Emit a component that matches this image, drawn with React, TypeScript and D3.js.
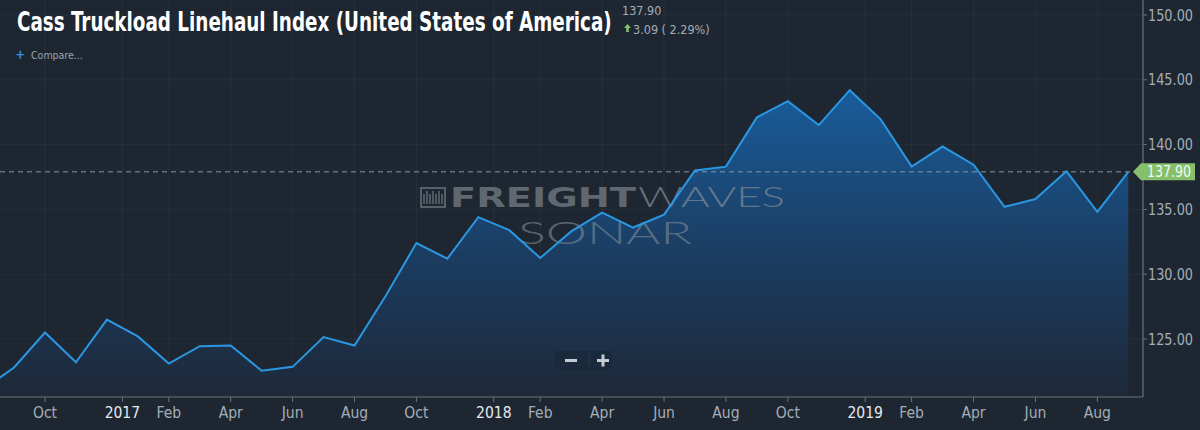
import React, { useEffect, useRef } from 'react';
import * as d3 from 'd3';

// monthly index values, Aug 2016 .. Sep 2019
const months = [
  '2016-08', '2016-09', '2016-10', '2016-11', '2016-12',
  '2017-01', '2017-02', '2017-03', '2017-04', '2017-05', '2017-06',
  '2017-07', '2017-08', '2017-09', '2017-10', '2017-11', '2017-12',
  '2018-01', '2018-02', '2018-03', '2018-04', '2018-05', '2018-06',
  '2018-07', '2018-08', '2018-09', '2018-10', '2018-11', '2018-12',
  '2019-01', '2019-02', '2019-03', '2019-04', '2019-05', '2019-06',
  '2019-07', '2019-08', '2019-09',
];
const values = [
  121.1, 122.8, 125.5, 123.2, 126.5,
  125.2, 123.1, 124.45, 124.5, 122.55, 122.85,
  125.15, 124.5, 128.3, 132.4, 131.2, 134.4,
  133.4, 131.25, 133.3, 134.75, 133.6, 134.6,
  138.0, 138.3, 142.1, 143.35, 141.5, 144.2,
  141.95, 138.3, 139.85, 138.45, 135.2, 135.8,
  137.95, 134.81, 137.9,
];
const monthNames = ['Jan', 'Feb', 'Mar', 'Apr', 'May', 'Jun', 'Jul', 'Aug', 'Sep', 'Oct', 'Nov', 'Dec'];
const labelledMonths = ['Feb', 'Apr', 'Jun', 'Aug', 'Oct'];
const yTicks = [125, 130, 135, 140, 145, 150];

const lastValue = 137.9;
const change = 3.09;
const changePct = 2.29;
const title = 'Cass Truckload Linehaul Index (United States of America)';

const W = 1200;
const H = 430;
const plotRight = 1143;
const plotBottom = 397;
const condensed = "'Liberation Sans Narrow', 'DejaVu Sans Condensed', Roboto, sans-serif";

// squeeze a text horizontally to a given width (keeps its real bbox honest)
function fitWidth(sel: d3.Selection<SVGTextElement, unknown, null, undefined>, x: number, y: number, width: number) {
  const natural = sel.node()!.getComputedTextLength() || width;
  sel.attr('x', 0).attr('y', 0)
    .attr('transform', `translate(${x},${y}) scale(${width / natural},1)`);
}

export default function App() {
  const svgRef = useRef<SVGSVGElement>(null);

  useEffect(() => {
    if (!svgRef.current) return;
    const svg = d3.select(svgRef.current);
    svg.selectAll('*').remove();

    const x = d3.scaleLinear().domain([0, months.length - 1]).range([-16.9, 1128.3]);
    const y = d3.scaleLinear().domain([125, 150]).range([339, 15]);

    // x ticks: even months at the point, year labels half a step before January
    const xTicks: { pos: number; label: string; year: boolean }[] = [];
    months.forEach((m, i) => {
      const [yr, mo] = m.split('-').map(Number);
      const name = monthNames[mo - 1];
      if (mo === 1) xTicks.push({ pos: i - 0.5, label: String(yr), year: true });
      else if (labelledMonths.includes(name)) xTicks.push({ pos: i, label: name, year: false });
    });
    const visibleTicks = xTicks.filter((t) => x(t.pos) > 0 && x(t.pos) < plotRight);

    const defs = svg.append('defs');
    const grad = defs.append('linearGradient')
      .attr('id', 'areaFill')
      .attr('gradientUnits', 'userSpaceOnUse')
      .attr('x1', 0).attr('x2', 0)
      .attr('y1', 90).attr('y2', plotBottom);
    grad.append('stop').attr('offset', '0%').attr('stop-color', '#195c9b');
    grad.append('stop').attr('offset', '55%').attr('stop-color', '#1b3c60');
    grad.append('stop').attr('offset', '100%').attr('stop-color', '#1e2939');

    defs.append('clipPath').attr('id', 'plotClip')
      .append('rect').attr('x', 0).attr('y', 0).attr('width', plotRight).attr('height', plotBottom);

    svg.append('rect').attr('width', W).attr('height', H).attr('fill', '#1e2731');

    // grid
    const grid = svg.append('g');
    grid.selectAll('line.v').data(visibleTicks).join('line')
      .attr('class', 'v')
      .attr('x1', (d) => x(d.pos)).attr('x2', (d) => x(d.pos))
      .attr('y1', 0).attr('y2', plotBottom)
      .attr('stroke', '#ffffff').attr('stroke-opacity', 0.045);
    grid.selectAll('line.h').data(yTicks).join('line')
      .attr('class', 'h')
      .attr('x1', 0).attr('x2', plotRight)
      .attr('y1', (d) => y(d)).attr('y2', (d) => y(d))
      .attr('stroke', '#ffffff').attr('stroke-opacity', 0.035);

    const plot = svg.append('g').attr('clip-path', 'url(#plotClip)');

    const area = d3.area<number>()
      .x((_, i) => x(i))
      .y0(plotBottom - 1)
      .y1((d) => y(d));
    plot.append('path').datum(values).attr('d', area).attr('fill', 'url(#areaFill)');

    // watermark
    const wm = plot.append('g');
    const icon = wm.append('g').attr('transform', 'translate(421,188)');
    icon.append('rect').attr('width', 24).attr('height', 19).attr('fill', 'none')
      .attr('stroke', '#6b737c').attr('stroke-width', 1.5);
    d3.range(7).forEach((k) => {
      icon.append('line')
        .attr('x1', 3 + k * 3).attr('x2', 3 + k * 3)
        .attr('y1', k % 2 ? 3 : 6).attr('y2', 16)
        .attr('stroke', '#6b737c').attr('stroke-width', 1.3);
    });
    wm.append('text').attr('x', 450).attr('y', 207)
      .attr('font-family', "'DejaVu Sans', sans-serif").attr('font-weight', 'bold')
      .attr('font-size', 26).attr('textLength', 186).attr('lengthAdjust', 'spacingAndGlyphs')
      .attr('fill', '#5f6770').text('FREIGHT');
    wm.append('text').attr('x', 638).attr('y', 207)
      .attr('font-family', "Lato, 'DejaVu Sans', sans-serif").attr('font-weight', 300)
      .attr('font-size', 27).attr('textLength', 147).attr('lengthAdjust', 'spacingAndGlyphs')
      .attr('fill', '#7d8894').attr('fill-opacity', 0.75).text('WAVES');
    wm.append('text').attr('x', 518).attr('y', 244)
      .attr('font-family', "Lato, 'DejaVu Sans', sans-serif").attr('font-weight', 300)
      .attr('font-size', 31).attr('textLength', 174).attr('lengthAdjust', 'spacingAndGlyphs')
      .attr('fill', '#7d8894').attr('fill-opacity', 0.65).text('SONAR');

    // last value reference line
    plot.append('line')
      .attr('x1', 0).attr('x2', plotRight)
      .attr('y1', y(lastValue)).attr('y2', y(lastValue))
      .attr('stroke', '#8c969f').attr('stroke-width', 1).attr('stroke-dasharray', '5,4');

    const line = d3.line<number>().x((_, i) => x(i)).y((d) => y(d));
    plot.append('path').datum(values).attr('d', line)
      .attr('fill', 'none').attr('stroke', '#2a97e2').attr('stroke-width', 2)
      .attr('stroke-linejoin', 'miter');

    // zoom buttons
    const zb = svg.append('g').attr('transform', 'translate(555,351)');
    zb.append('rect').attr('width', 57).attr('height', 19).attr('rx', 2)
      .attr('fill', '#000000').attr('fill-opacity', 0.1);
    zb.append('line').attr('x1', 34).attr('x2', 34).attr('y1', 3).attr('y2', 16)
      .attr('stroke', '#ffffff').attr('stroke-opacity', 0.08);
    zb.append('rect').attr('x', 10).attr('y', 8).attr('width', 12).attr('height', 3).attr('fill', '#c4cbd2');
    zb.append('rect').attr('x', 42).attr('y', 8).attr('width', 12).attr('height', 3).attr('fill', '#c4cbd2');
    zb.append('rect').attr('x', 46.5).attr('y', 3.5).attr('width', 3).attr('height', 12).attr('fill', '#c4cbd2');

    // axes
    svg.append('line').attr('x1', 0).attr('x2', plotRight).attr('y1', plotBottom).attr('y2', plotBottom)
      .attr('stroke', '#6a737d').attr('stroke-width', 1.2);
    svg.append('line').attr('x1', plotRight).attr('x2', plotRight).attr('y1', 0).attr('y2', plotBottom)
      .attr('stroke', '#6a737d').attr('stroke-width', 1.2);

    const xa = svg.append('g');
    xa.selectAll('line').data(visibleTicks).join('line')
      .attr('x1', (d) => x(d.pos)).attr('x2', (d) => x(d.pos))
      .attr('y1', plotBottom).attr('y2', plotBottom + 5)
      .attr('stroke', '#6a737d');
    xa.selectAll('text').data(visibleTicks).join('text')
      .attr('x', (d) => x(d.pos)).attr('y', 418)
      .attr('text-anchor', 'middle')
      .attr('font-family', condensed).attr('font-size', 15.5)
      .attr('fill', (d) => (d.year ? '#e6eaee' : '#a4adb6'))
      .text((d) => d.label);

    const ya = svg.append('g');
    ya.selectAll('line').data(yTicks).join('line')
      .attr('x1', plotRight).attr('x2', plotRight + 4)
      .attr('y1', (d) => y(d)).attr('y2', (d) => y(d))
      .attr('stroke', '#6a737d');
    ya.selectAll('text').data(yTicks).join('text')
      .attr('x', plotRight + 5).attr('y', (d) => y(d) + 5.5)
      .attr('font-family', condensed).attr('font-size', 16)
      .attr('textLength', 45).attr('lengthAdjust', 'spacingAndGlyphs')
      .attr('fill', '#a4adb6')
      .text((d) => d3.format('.2f')(d));

    // last value tag
    const ty = y(lastValue);
    const tag = svg.append('g');
    tag.append('path')
      .attr('d', `M1133,${ty} L1141,${ty - 8.5} L1195,${ty - 8.5} L1195,${ty + 8.5} L1141,${ty + 8.5} Z`)
      .attr('fill', '#86c06c');
    tag.append('text').attr('x', 1147).attr('y', ty + 5.5)
      .attr('font-family', condensed).attr('font-size', 16)
      .attr('textLength', 44).attr('lengthAdjust', 'spacingAndGlyphs')
      .attr('fill', '#f4f8f0').text(d3.format('.2f')(lastValue));

    // header
    const titleText = svg.append('text')
      .attr('font-family', condensed).attr('font-weight', 'bold').attr('font-size', 27)
      .attr('fill', '#ffffff').text(title);
    fitWidth(titleText as any, 17, 31, 595);
    svg.append('text').attr('x', 622).attr('y', 15)
      .attr('font-family', condensed).attr('font-size', 12.5)
      .attr('fill', '#a4adb6').text(d3.format('.2f')(lastValue));
    svg.append('path').attr('d', 'M624,28 L627.5,24 L631,28 L628.8,28 L628.8,32 L626.2,32 L626.2,28 Z')
      .attr('fill', '#7cc36a');
    svg.append('text').attr('x', 633).attr('y', 34)
      .attr('font-family', condensed).attr('font-size', 12.5)
      .attr('fill', '#a4adb6').text(`${d3.format('.2f')(change)} ( ${d3.format('.2f')(changePct)}%)`);

    svg.append('text').attr('x', 16).attr('y', 60)
      .attr('font-family', "Roboto, sans-serif").attr('font-size', 15)
      .attr('fill', '#3a8fe8').text('+');
    svg.append('text').attr('x', 31).attr('y', 59)
      .attr('font-family', condensed).attr('font-size', 10.5)
      .attr('fill', '#9aa3ad').text('Compare...');
  }, []);

  return (
    <svg
      ref={svgRef}
      width={W}
      height={H}
      style={{ position: 'absolute', left: 0, top: 0, display: 'block' }}
    />
  );
}
